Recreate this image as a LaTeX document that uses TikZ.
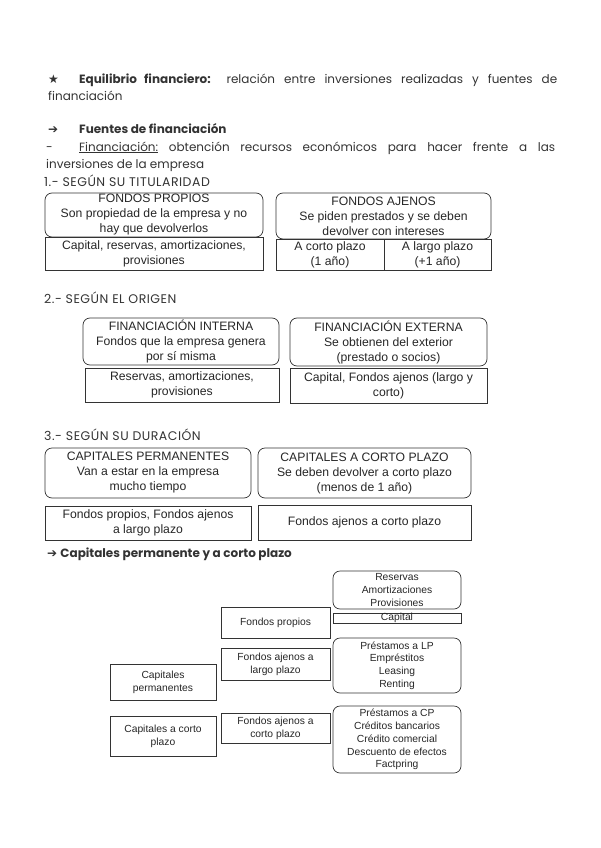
\documentclass[tikz,border=0pt]{standalone}
\usepackage{fontspec}
\setmainfont{Poppins}
\newfontfamily\boxfont{Liberation Sans}
\newfontfamily\symfont{DejaVu Sans}
\newfontfamily\headfont[LetterSpace=4]{Poppins}

\begin{document}
\begin{tikzpicture}[x=1pt,y=-1pt,
  body/.style={anchor=base west,inner sep=0pt,text=black!80,font=\fontsize{12}{17}\selectfont},
  head/.style={anchor=base west,inner sep=0pt,text=black!80,font=\headfont\fontsize{12.5}{17}\selectfont},
  para/.style={anchor=base west,inner sep=0pt,text=black!80,text width=509pt,align=justify,font=\fontsize{12}{17}\selectfont},
  rbox/.style={draw=black!80,line width=0.7pt,rounded corners=7pt,align=center,inner sep=0pt,text=black!85,font=\boxfont\fontsize{12.2}{15}\selectfont},
  sbox/.style={draw=black!80,line width=0.7pt,align=center,inner sep=0pt,text=black!85,font=\boxfont\fontsize{12.2}{15}\selectfont},
  rsmall/.style={rbox,font=\boxfont\fontsize{10.3}{12.8}\selectfont},
  ssmall/.style={sbox,font=\boxfont\fontsize{10.3}{12.8}\selectfont}]
  \useasboundingbox (0,0) rectangle (600,848);

  % ---------------- text lines ----------------
  \node[para] (equil) at (48,84) {\makebox[31pt][l]{\symfont ★}\textbf{Equilibrio financiero:} relación entre inversiones realizadas y fuentes de\linebreak financiación\par};
  \node[body] (fuentes) at (48,134) {\makebox[31pt][l]{\symfont ➔}\textbf{Fuentes de financiación}};
  \node[para] (financ) at (46,151) {\makebox[33pt][l]{-}\underline{Financiación:} obtención recursos económicos para hacer frente a las\linebreak inversiones de la empresa\par};
  \node[head] (tit1) at (44,186) {1.- SEGÚN SU TITULARIDAD};
  \node[head] (tit2) at (44,303) {2.- SEGÚN EL ORIGEN};
  \node[head] (tit3) at (44,440) {3.- SEGÚN SU DURACIÓN};
  \node[body] (tit4) at (47,557) {{\symfont ➔}\ \textbf{Capitales permanente y a corto plazo}};

  % ---------------- 1. titularidad ----------------
  \node[rbox,minimum width=218pt,minimum height=44pt] (propios) at (154,215) {FONDOS PROPIOS\\Son propiedad de la empresa y no\\hay que devolverlos};
  \node[sbox,minimum width=218pt,minimum height=33pt] (propiosej) at (154,253.5) {Capital, reservas, amortizaciones,\\provisiones};
  \node[rbox,minimum width=215pt,minimum height=46pt] (ajenos) at (383.5,216) {FONDOS AJENOS\\Se piden prestados y se deben\\devolver con intereses};
  \node[sbox,minimum width=108pt,minimum height=31pt] (cortoej) at (330,254.5) {A corto plazo\\(1 año)};
  \node[sbox,minimum width=107pt,minimum height=31pt] (largoej) at (437.5,254.5) {A largo plazo\\(+1 año)};

  % ---------------- 2. origen ----------------
  \node[rbox,minimum width=196pt,minimum height=47pt] (interna) at (181,341.5) {FINANCIACIÓN INTERNA\\Fondos que la empresa genera\\por sí misma};
  \node[sbox,minimum width=194pt,minimum height=34pt] (internaej) at (182,385) {Reservas, amortizaciones,\\provisiones};
  \node[rbox,minimum width=197pt,minimum height=48pt] (externa) at (388.5,342) {FINANCIACIÓN EXTERNA\\Se obtienen del exterior\\(prestado o socios)};
  \node[sbox,minimum width=197pt,minimum height=35pt] (externaej) at (388.5,385.5) {Capital, Fondos ajenos (largo y\\corto)};

  % ---------------- 3. duracion ----------------
  \node[rbox,minimum width=206pt,minimum height=50pt] (perm) at (148,473) {CAPITALES PERMANENTES\\Van a estar en la empresa\\mucho tiempo};
  \node[sbox,minimum width=206pt,minimum height=34pt] (permej) at (148,523) {Fondos propios, Fondos ajenos\\a largo plazo};
  \node[rbox,minimum width=213pt,minimum height=50pt] (corto) at (364.5,473) {CAPITALES A CORTO PLAZO\\Se deben devolver a corto plazo\\(menos de 1 año)};
  \node[sbox,minimum width=213pt,minimum height=35pt] (cortoejd) at (364.5,522.5) {Fondos ajenos a corto plazo};

  % ---------------- esquema final ----------------
  \node[ssmall,minimum width=106pt,minimum height=36pt] (cperm) at (163,682) {Capitales\\permanentes};
  \node[ssmall,minimum width=106pt,minimum height=40pt] (ccp) at (163,736) {Capitales a corto\\plazo};
  \node[ssmall,minimum width=109pt,minimum height=31pt] (fprop) at (275.5,622.5) {Fondos propios};
  \node[ssmall,minimum width=109pt,minimum height=32pt] (falp) at (275.5,664) {Fondos ajenos a\\largo plazo};
  \node[ssmall,minimum width=109pt,minimum height=30pt] (facp) at (275.5,728) {Fondos ajenos a\\corto plazo};
  \node[rsmall,minimum width=128pt,minimum height=38pt] (reservas) at (397,590) {Reservas\\Amortizaciones\\Provisiones};
  \node[ssmall,minimum width=128pt,minimum height=10pt] (capital) at (397,618) {Capital};
  \node[rsmall,minimum width=128pt,minimum height=55pt] (prestlp) at (397,665.5) {Préstamos a LP\\Empréstitos\\Leasing\\Renting};
  \node[rsmall,minimum width=128pt,minimum height=67pt] (prestcp) at (397,739.5) {Préstamos a CP\\Créditos bancarios\\Crédito comercial\\Descuento de efectos\\Factpring};
\end{tikzpicture}
\end{document}
